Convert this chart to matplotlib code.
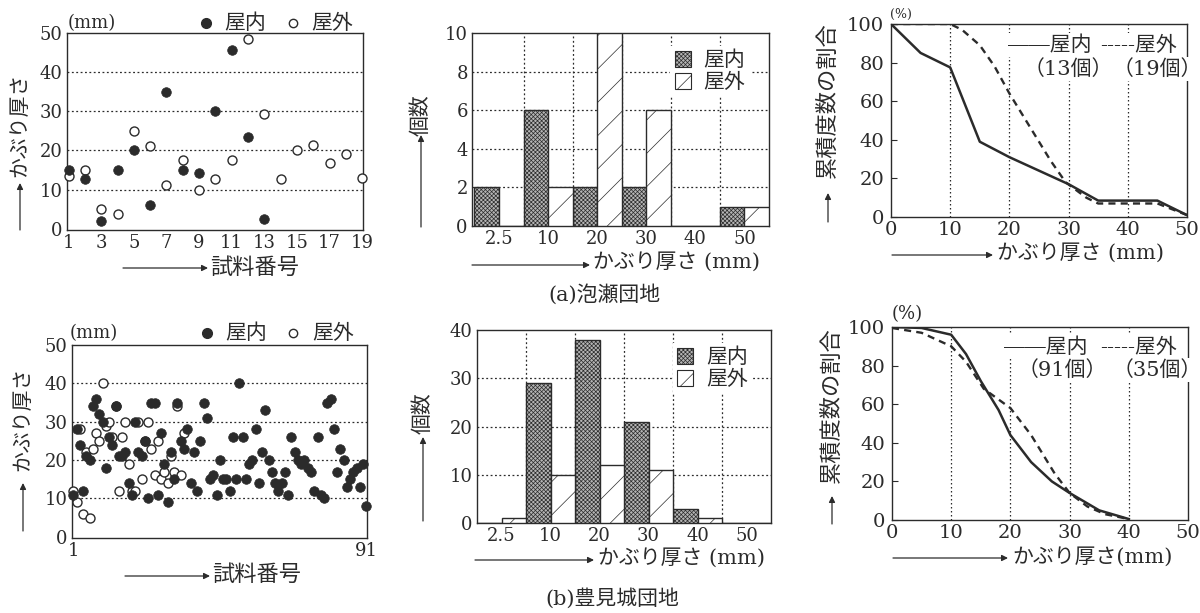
import matplotlib
matplotlib.use('Agg')
import matplotlib.pyplot as plt
from matplotlib.patches import FancyArrowPatch, Patch
from matplotlib.lines import Line2D
import numpy as np

plt.rcParams['font.family'] = ['DejaVu Serif', 'Noto Sans CJK JP']
plt.rcParams['hatch.linewidth'] = 0.5
plt.rcParams['axes.linewidth'] = 1.0

W, H = 1200, 613
INK = '#2b2b2b'

# ---------------- data ----------------
# (a) 泡瀬団地
a_in_idx = list(range(1, 14))
a_in = [15, 12.8, 2.1, 15, 20, 6.2, 34.9, 15.1, 14.3, 30.2, 45.6, 23.4, 2.4]
a_out_idx = list(range(1, 20))
a_out = [13.4, 15, 5.1, 3.8, 25.1, 21.1, 11.3, 17.7, 10, 12.8, 17.7, 48.5, 29.2,
         12.8, 20.2, 21.5, 16.7, 19, 13]

# (b) 豊見城団地
b_in_idx = list(range(1, 92))
b_in = [11, 28, 24, 12, 21, 20, 34, 36, 32, 30, 18, 26, 24, 34, 21, 21, 22, 14, 11, 30,
        22, 21, 25, 10, 35, 35, 11, 27, 19, 9, 22, 15, 35, 25, 23, 28, 14, 22, 12, 25,
        35, 31, 15, 16, 11, 20, 15, 15, 12, 26, 15, 40, 26, 15, 19, 20, 28, 14, 22, 33,
        20, 17, 14, 12, 14, 17, 11, 26, 22, 20, 19, 20, 18, 17, 12, 26, 11, 10, 35, 36,
        28, 17, 23, 20, 13, 15, 17, 18, 13, 19, 8]
b_out_idx = list(range(1, 36))
b_out = [12, 9, 28, 6, 22, 5, 23, 27, 25, 40, 29, 30, 26, 34, 12, 26, 30, 19, 12, 12,
         30, 15, 25, 30, 23, 16, 25, 15, 17, 14, 21, 17, 34, 16, 27]

bins = ['2.5', '10', '20', '30', '40', '50']
a_hist_in = [2, 6, 2, 2, 0, 1]
a_hist_out = [0, 2, 10, 6, 0, 1]
b_hist_in = [0, 29, 38, 21, 3, 0]
b_hist_out = [1, 10, 12, 11, 1, 0]

a_cum_x_in = [0, 5, 10, 15, 20, 30, 35, 45, 50]
a_cum_in = [100, 85, 77.5, 39, 31, 17, 8.5, 8.5, 1]
a_cum_x_out = [0, 10, 12, 15, 17.5, 20, 24, 27, 29.5, 33, 35, 45, 50]
a_cum_out = [100, 100, 97, 89, 78, 64, 44, 29, 18, 10, 7, 7, 1]

b_cum_x_in = [0, 5, 10, 12.5, 15, 18, 20, 23.5, 27, 30, 35, 40]
b_cum_in = [100, 99.5, 96, 86, 72, 57, 44, 30, 20, 14, 5, 0.5]
b_cum_x_out = [0, 5, 10, 12.5, 15.5, 20, 23.5, 27.5, 30, 33, 36, 40]
b_cum_out = [99.5, 97, 90, 82, 68, 58, 44, 24, 14, 7, 3, 0.5]

# ---------------- helpers ----------------
fig = plt.figure(figsize=(W / 100, H / 100), dpi=100)


def P(x, y):
    return (x / W, 1 - y / H)


def ftext(x, y, s, **kw):
    kw.setdefault('color', INK)
    fig.text(x / W, 1 - y / H, s, **kw)


def farrow(x0, y0, x1, y1):
    fig.add_artist(FancyArrowPatch(P(x0, y0), P(x1, y1), transform=fig.transFigure,
                                   arrowstyle='-|>', mutation_scale=9, lw=0.9,
                                   color=INK, shrinkA=0, shrinkB=0))


def fmark(x, y, filled):
    fig.add_artist(Line2D([x / W], [1 - y / H], marker='o', ms=7 if filled else 6,
                          mfc=INK if filled else 'white', mec=INK, mew=1.0,
                          transform=fig.transFigure, ls='none'))


def add_ax(l, r, t, b):
    return fig.add_axes([l / W, 1 - b / H, (r - l) / W, (b - t) / H])


def style(ax, size=13):
    for s in ax.spines.values():
        s.set_color(INK)
    ax.tick_params(axis='both', length=0, labelsize=size, colors=INK, pad=3)


# ---------------- scatter panels ----------------
def scatter_panel(ax, xi, yi, xo, yo, xlim, xticks):
    for yv in [10, 20, 30, 40]:
        ax.axhline(yv, ls=(0, (1.5, 2)), lw=0.9, color=INK, zorder=1)
    ax.scatter(xo, yo, s=42, facecolor='white', edgecolor=INK, lw=1.0, zorder=3, clip_on=False)
    ax.scatter(xi, yi, s=48, facecolor=INK, edgecolor=INK, lw=0.5, zorder=4, clip_on=False)
    ax.set_xlim(*xlim)
    ax.set_ylim(-0.3, 50)
    ax.set_xticks(xticks)
    ax.set_yticks(range(0, 51, 10))
    style(ax)


ax1 = add_ax(67, 363, 33, 230)
scatter_panel(ax1, a_in_idx, a_in, a_out_idx, a_out, (0.9, 19.05), range(1, 20, 2))
ax4 = add_ax(72, 367, 345, 538)
scatter_panel(ax4, b_in_idx, b_in, b_out_idx, b_out, (0.6, 91.2), [1, 91])

# legends / units for scatter panels
ftext(68, 23, '(mm)', fontsize=13, ha='left', va='center')
fmark(206, 23, True); ftext(224, 23, '屋内', fontsize=15, ha='left', va='center')
fmark(293, 23, False); ftext(311, 23, '屋外', fontsize=15, ha='left', va='center')
ftext(70, 333, '(mm)', fontsize=13, ha='left', va='center')
fmark(207, 333, True); ftext(225, 333, '屋内', fontsize=15, ha='left', va='center')
fmark(293, 333, False); ftext(312, 333, '屋外', fontsize=15, ha='left', va='center')

# axis labels scatter
ftext(20, 125, 'かぶり厚さ', fontsize=15, rotation=90, ha='center', va='center')
farrow(20, 230, 20, 183)
farrow(123, 268, 208, 268)
ftext(210, 268, '試料番号', fontsize=16, ha='left', va='center')

ftext(23, 419, 'かぶり厚さ', fontsize=15, rotation=90, ha='center', va='center')
farrow(23, 531, 23, 483)
farrow(125, 576, 210, 576)
ftext(212, 575, '試料番号', fontsize=16, ha='left', va='center')


# ---------------- histogram panels ----------------
IN_FACE = '#b5b5b5'
IN_HATCH = 'xxxxxxxx'


def hist_panel(ax, hin, hout, ymax, ystep, xl):
    x = np.arange(len(bins))
    for g in [0.5, 1.5, 2.5, 3.5, 4.5]:
        ax.axvline(g, ls=(0, (1.5, 2)), lw=0.9, color=INK, zorder=1)
    for yv in range(ystep, ymax, ystep):
        ax.axhline(yv, ls=(0, (1.5, 2)), lw=0.9, color=INK, zorder=1)
    ax.bar(x - 0.25, hin, width=0.5, facecolor=IN_FACE, edgecolor=INK, hatch=IN_HATCH,
           lw=1.0, zorder=3)
    ax.bar(x + 0.25, hout, width=0.5, facecolor='white', edgecolor=INK, hatch='/',
           lw=1.0, zorder=3)
    ax.set_xlim(*xl)
    ax.set_ylim(0, ymax)
    ax.set_xticks(x)
    ax.set_xticklabels(bins)
    ax.set_yticks(range(0, ymax + 1, ystep))
    style(ax)
    handles = [Patch(facecolor=IN_FACE, edgecolor=INK, hatch=IN_HATCH, lw=0.8),
               Patch(facecolor='white', edgecolor=INK, hatch='/', lw=0.8)]
    leg = ax.legend(handles, ['屋内', '屋外'], loc='upper right', bbox_to_anchor=(0.97, 0.985),
                    fontsize=15, frameon=True, facecolor='white', edgecolor='none',
                    framealpha=1, handlelength=0.8, handleheight=0.8, handletextpad=0.6,
                    labelspacing=0.15, borderpad=0.2, fancybox=False)
    leg.set_zorder(6)
    for t in leg.get_texts():
        t.set_color(INK)


ax2 = add_ax(472, 769, 33, 226)
hist_panel(ax2, a_hist_in, a_hist_out, 10, 2, (-0.55, 5.5))
ax5 = add_ax(477, 771, 330, 523)
hist_panel(ax5, b_hist_in, b_hist_out, 40, 10, (-0.5, 5.5))

ftext(421, 115, '個数', fontsize=15, rotation=90, ha='center', va='center')
farrow(421, 227, 421, 135)
farrow(472, 265, 590, 265)
ftext(593, 262, 'かぶり厚さ (mm)', fontsize=15, ha='left', va='center')

ftext(423, 413, '個数', fontsize=15, rotation=90, ha='center', va='center')
farrow(423, 521, 423, 437)
farrow(475, 560, 594, 560)
ftext(598, 558, 'かぶり厚さ (mm)', fontsize=15, ha='left', va='center')


# ---------------- cumulative panels ----------------
def cum_panel(ax, xi, yi, xo, yo):
    for g in [10, 20, 30, 40]:
        ax.axvline(g, ls=(0, (1.2, 2)), lw=0.9, color=INK, zorder=1)
    ax.plot(xo, yo, color=INK, lw=1.7, ls=(0, (3, 2.2)), zorder=3)
    ax.plot(xi, yi, color=INK, lw=1.8, zorder=4)
    ax.set_xlim(0, 50)
    ax.set_ylim(0, 100)
    ax.set_xticks(range(0, 51, 10))
    ax.set_yticks(range(0, 101, 20))
    style(ax, 14)
    ax.tick_params(axis='y', length=4, direction='in', pad=5)


ax3 = add_ax(891, 1187, 24, 217)
cum_panel(ax3, a_cum_x_in, a_cum_in, a_cum_x_out, a_cum_out)
ax6 = add_ax(892, 1188, 327, 520)
cum_panel(ax6, b_cum_x_in, b_cum_in, b_cum_x_out, b_cum_out)

box = dict(facecolor='white', edgecolor='none', pad=1.5)
# legend (a)
ftext(890, 14, '(%)', fontsize=9, ha='left', va='center')
ftext(1008, 45, '――屋内', fontsize=15, ha='left', va='center', bbox=box, zorder=5)
ftext(1100, 45, '-----屋外', fontsize=15, ha='left', va='center', bbox=box, zorder=5)
ftext(1068, 69, '（13個）', fontsize=15, ha='center', va='center', bbox=box, zorder=5)
ftext(1157, 69, '（19個）', fontsize=15, ha='center', va='center', bbox=box, zorder=5)
# legend (b)
ftext(892, 314, '(%)', fontsize=13, ha='left', va='center')
ftext(1004, 347, '――屋内', fontsize=15, ha='left', va='center', bbox=box, zorder=5)
ftext(1100, 347, '-----屋外', fontsize=15, ha='left', va='center', bbox=box, zorder=5)
ftext(1062, 370, '（91個）', fontsize=15, ha='center', va='center', bbox=box, zorder=5)
ftext(1157, 370, '（35個）', fontsize=15, ha='center', va='center', bbox=box, zorder=5)

ftext(828, 100, '累積度数の割合', fontsize=16, rotation=90, ha='center', va='center')
farrow(828, 222, 828, 193)
farrow(892, 255, 993, 255)
ftext(997, 253, 'かぶり厚さ (mm)', fontsize=15, ha='left', va='center')

ftext(832, 405, '累積度数の割合', fontsize=16, rotation=90, ha='center', va='center')
farrow(832, 524, 832, 496)
farrow(893, 558, 1008, 558)
ftext(1012, 557, 'かぶり厚さ(mm)', fontsize=15, ha='left', va='center')

# panel titles
ftext(604, 294, '(a)泡瀬団地', fontsize=15, ha='center', va='center')
ftext(612, 598, '(b)豊見城団地', fontsize=15, ha='center', va='center')

fig.savefig('out.png', dpi=100, facecolor='white')
